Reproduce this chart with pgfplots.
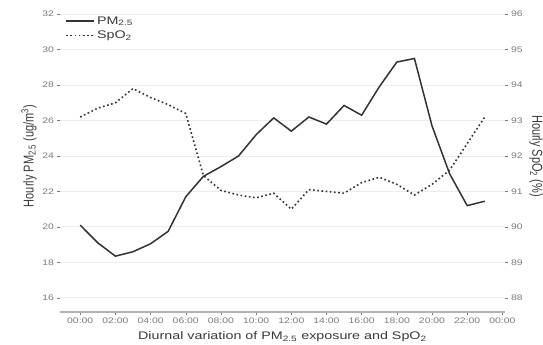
\documentclass[border=0pt]{standalone}
\usepackage{graphicx}
\usepackage{pgfplots}
\pgfplotsset{compat=1.18}
\usepackage{fontspec}
\setmainfont{Liberation Sans}
\definecolor{linec}{HTML}{333333}
\definecolor{tickc}{HTML}{7A7A7A}
\definecolor{labc}{HTML}{3A3A3A}
\definecolor{gridc}{HTML}{EDEDED}
\newcommand\hs[1]{\scalebox{1.3}[1]{#1}}
\newcommand\vs[1]{\scalebox{1}[1.3]{#1}}
\begin{document}
\begin{tikzpicture}
\begin{axis}[
  scale only axis, width=445pt, height=312pt,
  xmin=-1.15, xmax=24.15, ymin=15.2, ymax=32.8,
  axis x line*=bottom, axis y line*=left,
  x axis line style={-, draw=gray!60, line width=1.3pt},
  y axis line style={draw=none},
  xtick={0,2,...,24},
  xticklabels={\hs{00:00},\hs{02:00},\hs{04:00},\hs{06:00},\hs{08:00},\hs{10:00},\hs{12:00},\hs{14:00},\hs{16:00},\hs{18:00},\hs{20:00},\hs{22:00},\hs{00:00}},
  ytick={16,18,...,32},
  yticklabel={\hs{\pgfmathprintnumber{\tick}}},
  ymajorgrids, grid style={gridc, line width=0.9pt},
  tick align=outside, major tick length=2.5pt,
  tick style={tickc, line width=0.5pt},
  tick label style={font=\fontsize{8}{9}\selectfont, text=tickc},
  /pgf/number format/assume math mode=true,
  xlabel={\hs{Diurnal variation of PM\textsubscript{2.5} exposure and SpO\textsubscript{2}}},
  ylabel={\vs{Hourly PM\textsubscript{2.5} (ug/m\textsuperscript{3})}},
  label style={font=\fontsize{11}{12}\selectfont, text=labc},
  xlabel style={yshift=-1pt},
  ylabel style={yshift=-1pt},
  legend style={at={(0.005,0.96)}, anchor=north west, draw=none, fill=none,
     font=\fontsize{11}{12}\selectfont, text=labc, row sep=1pt},
  legend cell align=left,
  legend image code/.code={\draw[#1] (0pt,0pt) -- (28pt,0pt);},
]
\addplot[linec, line width=1.5pt, mark=none] coordinates {
(0,20.1) (1,19.1) (2,18.35) (3,18.6) (4,19.05) (5,19.75) (6,21.7) (7,22.85)
(8,23.4) (9,24.0) (10,25.2) (11,26.15) (12,25.4) (13,26.2) (14,25.8) (15,26.85)
(16,26.3) (17,27.9) (18,29.3) (19,29.5) (20,25.7) (21,23.0) (22,21.2) (23,21.45)
};
\addlegendentry{\hs{PM\textsubscript{2.5}}}
\addlegendimage{linec, line width=1.6pt, dash pattern=on 1.6pt off 2.6pt}
\addlegendentry{\hs{SpO\textsubscript{2}}}
\end{axis}
\begin{axis}[
  scale only axis, width=445pt, height=312pt,
  xmin=-1.15, xmax=24.15, ymin=87.6, ymax=96.4,
  axis x line=none, axis y line*=right,
  y axis line style={draw=none},
  ytick={88,89,...,96},
  yticklabel={\hs{\pgfmathprintnumber{\tick}}},
  tick align=outside, major tick length=2.5pt,
  tick style={tickc, line width=0.5pt},
  tick label style={font=\fontsize{8}{9}\selectfont, text=tickc},
  /pgf/number format/assume math mode=true,
  ylabel={\vs{Hourly SpO\textsubscript{2} (\%)}},
  label style={font=\fontsize{11}{12}\selectfont, text=labc},
  ylabel style={rotate=180},
]
\addplot[linec, line width=1.6pt, dash pattern=on 1.6pt off 2.6pt, mark=none] coordinates {
(0,93.1) (1,93.35) (2,93.5) (3,93.9) (4,93.65) (5,93.45) (6,93.2) (7,91.45)
(8,91.03) (9,90.9) (10,90.82) (11,90.95) (12,90.5) (13,91.05) (14,91.0) (15,90.95)
(16,91.25) (17,91.4) (18,91.2) (19,90.9) (20,91.2) (21,91.6) (22,92.35) (23,93.1)
};
\end{axis}
\pgfresetboundingbox
\path[use as bounding box] (-60pt,-33pt) rectangle (483pt,312pt);
\end{tikzpicture}
\end{document}
